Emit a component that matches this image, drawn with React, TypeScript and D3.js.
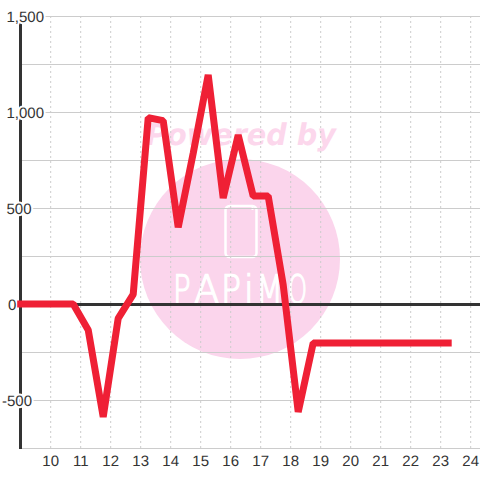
import React from "react";
import * as d3 from "d3";

const hours = [9, 9.25, 9.75, 10.25, 10.75, 11.25, 11.75, 12.25, 12.75, 13.25, 13.75, 14.25, 14.75, 15.25, 15.75, 16.25, 16.75, 17.25, 17.75, 18.25, 18.75, 19.25, 19.75, 20.25, 20.75, 21.25, 21.75, 22.25, 22.75, 23.25];
const values = [0, 0, 0, 0, 0, -135, -588, -75, 50, 970, 955, 400, 785, 1193, 552, 880, 562, 562, 100, -562, -203, -203, -203, -203, -203, -203, -203, -203, -203, -203];
const xTicks = [10, 11, 12, 13, 14, 15, 16, 17, 18, 19, 20, 21, 22, 23, 24];
const yGrid = [1500, 1250, 1000, 750, 500, 250, 0, -250, -500, -750];
const yLabels = ["1,500", "1,000", "500", "0", "-500"];
const yLabelValues = [1500, 1000, 500, 0, -500];
const logoLetters = ["P", "A", "P", "i", "M", "O"];
const logoStarts = [173, 194, 221, 244, 256, 288];
const logoScaleX = [0.75, 0.95, 0.85, 0.9, 0.8, 0.62];

const x = d3.scaleLinear().domain([10, 24]).range([50.7, 470.7]);
const y = d3.scaleLinear().domain([-750, 1500]).range([448, 16]);
const INK = "#333333";
const GRID = "#cccccc";
const RED = "#ef2035";
const FONT = "'Liberation Sans', Arial, sans-serif";

const linePath = d3.line<number>()
  .x((_, i) => x(hours[i]))
  .y((d) => y(d))(values) as string;

export default function App() {
  return (
    <svg width={480} height={480} style={{ position: "fixed", left: 0, top: 0, background: "#fff" }} fontFamily={FONT} textRendering="geometricPrecision">
      <circle cx={240} cy={259} r={100} fill="#fbd5ec" />
      <text x={146} y={145} fontFamily="'DejaVu Sans'" fontWeight="bold" fontStyle="italic" fontSize={30} fill="#fcd7ec" textLength={190} lengthAdjust="spacingAndGlyphs">Powered by</text>
      <rect x={225.5} y={206} width={31} height={51} rx={4} fill="none" stroke="#fff" strokeWidth={2.5} />
      <line x1={252.5} x2={252.5} y1={205} y2={210} stroke="#fff" strokeWidth={2} />
      {logoLetters.map((l, i) => (
        <text key={i} transform={`translate(${logoStarts[i]},303) scale(${logoScaleX[i]},1)`} fontFamily="'DejaVu Sans'" fontWeight={200} fontSize={39} fill="#fff" stroke="#fff" strokeWidth={1.4}>{l}</text>
      ))}

      {yGrid.map((v) => (
        <line key={v} x1={20} x2={480} y1={y(v) + 0.5} y2={y(v) + 0.5} stroke={GRID} strokeWidth={1} />
      ))}
      {xTicks.map((t) => (
        <line key={t} x1={x(t)} x2={x(t)} y1={16} y2={448} stroke={GRID} strokeWidth={1} strokeDasharray="2 3" />
      ))}

      <line x1={20.5} x2={20.5} y1={16} y2={449} stroke={INK} strokeWidth={3} />
      <line x1={20} x2={480} y1={y(0) + 0.5} y2={y(0) + 0.5} stroke={INK} strokeWidth={3} />

      {yLabels.map((s, i) => (
        <text key={s} x={yLabelValues[i] < 0 ? 2 : yLabelValues[i] === 0 ? 8 : 6.5} y={y(yLabelValues[i]) + 6} fontSize={15} fill={INK} stroke="#fff" strokeWidth={4} strokeLinejoin="round" style={{ paintOrder: "stroke" }}>{s}</text>
      ))}
      {xTicks.map((t) => (
        <text key={t} x={x(t)} y={466} fontSize={15} fill={INK} textAnchor="middle">{t}</text>
      ))}

      <path d={linePath} fill="none" stroke={RED} strokeWidth={7} strokeLinejoin="bevel" strokeLinecap="square" />
    </svg>
  );
}
